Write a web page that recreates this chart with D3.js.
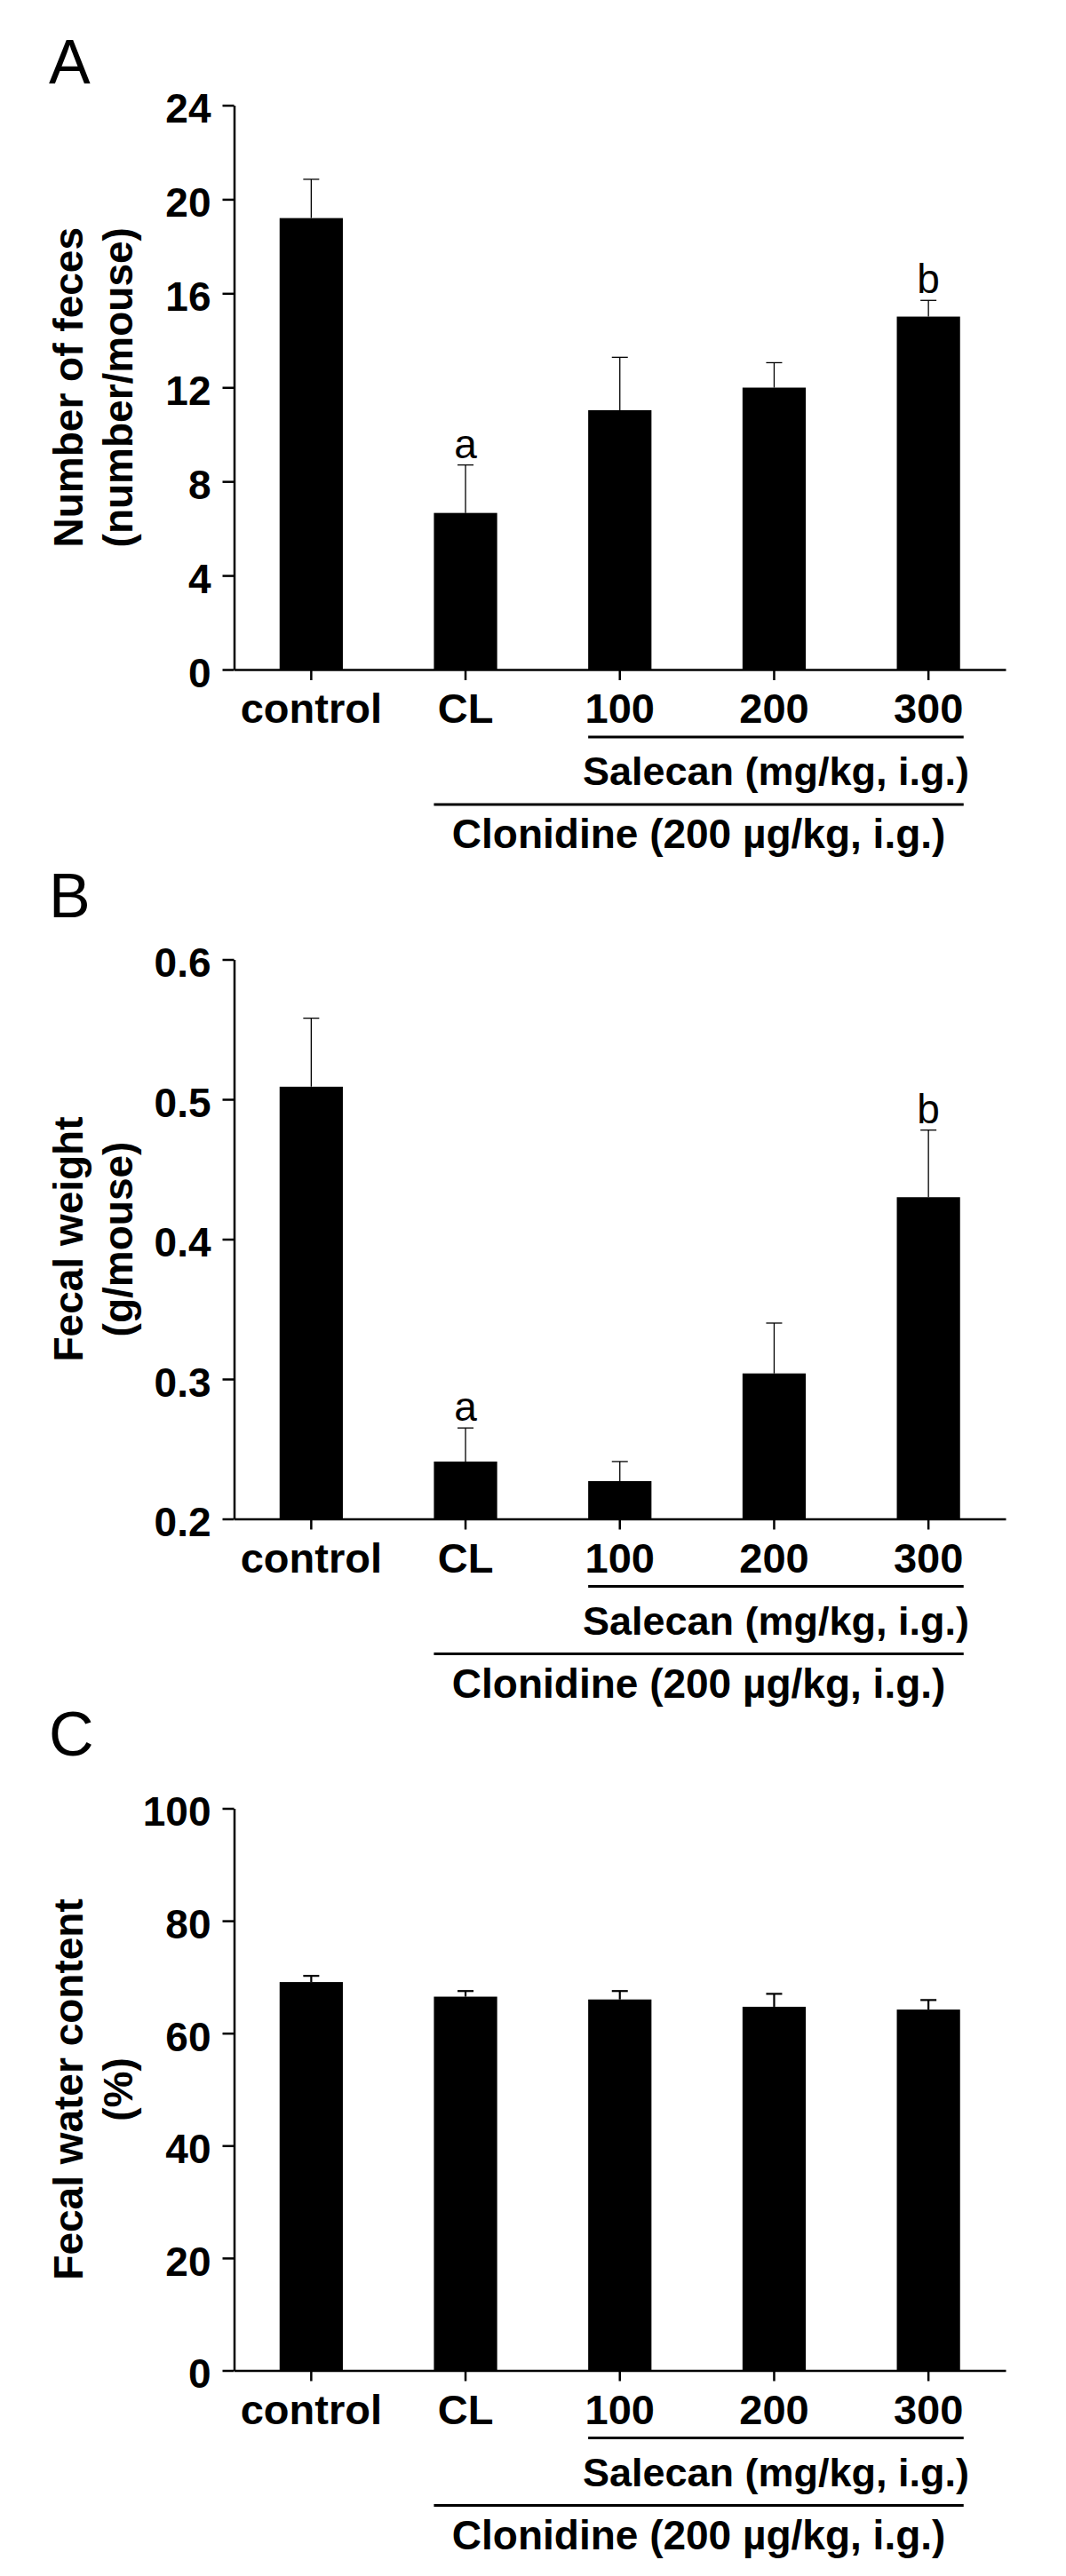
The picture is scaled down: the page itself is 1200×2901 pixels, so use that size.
<!DOCTYPE html>
<html>
<head>
<meta charset="utf-8">
<script src="https://cdn.jsdelivr.net/npm/d3@7"></script>
<style>
  html, body { margin: 0; padding: 0; background: #fff; }
  svg { display: block; }
  text { font-family: Arial, "Liberation Sans", sans-serif; fill: #000; }
</style>
</head>
<body>
<svg id="chart" width="1200" height="2901"></svg>
<script>
// ---- data ----
const categories = ["control", "CL", "100", "200", "300"];

const fecesNumber = [19.2, 6.66, 11.03, 11.99, 15.01];
const fecesNumberErr = [1.65, 2.04, 2.25, 1.06, 0.69];
const fecesNumberSig = ["", "a", "", "", "b"];
const fecesNumberTicks = [0, 4, 8, 12, 16, 20, 24];

const fecalWeight = [0.509, 0.241, 0.227, 0.304, 0.430];
const fecalWeightErr = [0.049, 0.024, 0.014, 0.036, 0.048];
const fecalWeightSig = ["", "a", "", "", "b"];
const fecalWeightTicks = [0.2, 0.3, 0.4, 0.5, 0.6];

const waterContent = [69.1, 66.5, 66.0, 64.7, 64.2];
const waterContentErr = [1.1, 1.0, 1.5, 2.3, 1.7];
const waterContentSig = ["", "", "", "", ""];
const waterContentTicks = [0, 20, 40, 60, 80, 100];

const salecanLabel = "Salecan (mg/kg, i.g.)";
const clonidineLabel = "Clonidine (200 µg/kg, i.g.)";

const panels = [
  { letter: "A", letterY: 94, top: 118.5, bottom: 754, domain: [0, 24], ticks: fecesNumberTicks,
    fmt: d3.format("d"), values: fecesNumber, errs: fecesNumberErr, sig: fecesNumberSig,
    title: ["Number of feces", "(number/mouse)"], errW: 1.3 },
  { letter: "B", letterY: 1033, top: 1080.5, bottom: 1710.5, domain: [0.2, 0.6], ticks: fecalWeightTicks,
    fmt: d3.format(".1f"), values: fecalWeight, errs: fecalWeightErr, sig: fecalWeightSig,
    title: ["Fecal weight", "(g/mouse)"], errW: 1.3 },
  { letter: "C", letterY: 1977, top: 2036.5, bottom: 2669.5, domain: [0, 100], ticks: waterContentTicks,
    fmt: d3.format("d"), values: waterContent, errs: waterContentErr, sig: waterContentSig,
    title: ["Fecal water content", "(%)"], errW: 2.2 }
];

const svg = d3.select("#chart");
const axisX0 = 263.5, axisX1 = 1132;

const x = d3.scaleBand()
  .domain(categories)
  .range([axisX0, axisX1])
  .paddingInner(0.59)
  .paddingOuter(0.295);

panels.forEach(p => {
  const g = svg.append("g");
  const y = d3.scaleLinear().domain(p.domain).range([p.bottom, p.top]);

  // panel letter
  g.append("text")
    .attr("x", 55).attr("y", p.letterY)
    .attr("font-size", 70).attr("font-weight", "normal")
    .text(p.letter);

  // bars
  g.selectAll("rect.bar")
    .data(categories)
    .join("rect")
    .attr("class", "bar")
    .attr("x", d => x(d))
    .attr("width", x.bandwidth())
    .attr("y", (d, i) => y(p.values[i]))
    .attr("height", (d, i) => y(p.domain[0]) - y(p.values[i]))
    .attr("fill", "#000");

  // error bars (upper only)
  const cap = 9;
  categories.forEach((c, i) => {
    const cx = x(c) + x.bandwidth() / 2;
    const y0 = y(p.values[i]);
    const y1 = y(p.values[i] + p.errs[i]);
    g.append("line")
      .attr("x1", cx).attr("x2", cx).attr("y1", y0).attr("y2", y1)
      .attr("stroke", "#000").attr("stroke-width", p.errW);
    g.append("line")
      .attr("x1", cx - cap).attr("x2", cx + cap).attr("y1", y1).attr("y2", y1)
      .attr("stroke", "#000").attr("stroke-width", p.errW);
    if (p.sig[i]) {
      g.append("text")
        .attr("x", cx).attr("y", y1 - 8)
        .attr("text-anchor", "middle")
        .attr("font-size", 46)
        .text(p.sig[i]);
    }
  });

  // y axis
  const yAxis = g.append("g")
    .attr("transform", `translate(${axisX0},0)`)
    .call(d3.axisLeft(y).tickValues(p.ticks).tickFormat(p.fmt).tickSize(13).tickSizeOuter(0).tickPadding(13));
  yAxis.selectAll("path, line").attr("stroke", "#000").attr("stroke-width", 2.5);
  yAxis.selectAll("text")
    .attr("font-size", 46).attr("font-weight", "bold")
    .attr("font-family", "Arial, 'Liberation Sans', sans-serif")
    .attr("dy", "0.42em").attr("fill", "#000");

  // x axis
  const xAxis = g.append("g")
    .attr("transform", `translate(0,${p.bottom})`)
    .call(d3.axisBottom(x).tickSize(12).tickSizeOuter(0));
  xAxis.selectAll("path, line").attr("stroke", "#000").attr("stroke-width", 2.5);
  xAxis.selectAll("text")
    .attr("y", 60).attr("dy", 0)
    .attr("font-size", 47).attr("font-weight", "bold")
    .attr("font-family", "Arial, 'Liberation Sans', sans-serif")
    .attr("fill", "#000");

  // y title (two lines, rotated)
  const cy = (p.top + p.bottom) / 2;
  const tt = g.append("text")
    .attr("transform", `translate(0,${cy}) rotate(-90)`)
    .attr("text-anchor", "middle")
    .attr("font-size", 46).attr("font-weight", "bold");
  tt.append("tspan").attr("x", 0).attr("y", 93).text(p.title[0]);
  tt.append("tspan").attr("x", 0).attr("y", 149).text(p.title[1]);

  // group brackets
  const salX0 = x("100"), salX1 = x("300") + x.bandwidth() + 4;
  const cloX0 = x("CL"), cloX1 = salX1;
  g.append("line")
    .attr("x1", salX0).attr("x2", salX1)
    .attr("y1", p.bottom + 76).attr("y2", p.bottom + 76)
    .attr("stroke", "#000").attr("stroke-width", 3);
  g.append("text")
    .attr("x", (salX0 + salX1) / 2).attr("y", p.bottom + 130)
    .attr("text-anchor", "middle")
    .attr("font-size", 45).attr("font-weight", "bold")
    .text(salecanLabel);
  g.append("line")
    .attr("x1", cloX0).attr("x2", cloX1)
    .attr("y1", p.bottom + 152).attr("y2", p.bottom + 152)
    .attr("stroke", "#000").attr("stroke-width", 3);
  g.append("text")
    .attr("x", (cloX0 + cloX1) / 2).attr("y", p.bottom + 201)
    .attr("text-anchor", "middle")
    .attr("font-size", 46).attr("font-weight", "bold")
    .text(clonidineLabel);
});
</script>
</body>
</html>
